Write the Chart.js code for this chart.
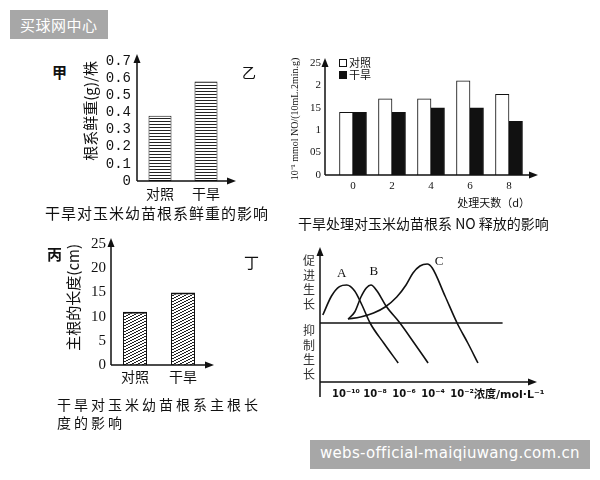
<!DOCTYPE html>
<html>
<head>
<meta charset="utf-8">
<script src="https://cdn.jsdelivr.net/npm/chart.js@4.4.1/dist/chart.umd.min.js"></script>
<style>
  body { margin: 0; background: #fff; width: 600px; height: 480px; position: relative; overflow: hidden;
         font-family: "Noto Sans CJK SC", sans-serif; color: #111; }
  canvas { position: absolute; }
  .t { position: absolute; white-space: nowrap; line-height: 1; }
  .v { position: absolute; width: 13px; font-size: 12px; line-height: 14.5px; word-break: break-all; color: #333; }
  .wm { position: absolute; background: #a7a7a7; color: #fff; }
</style>
</head>
<body>

<div class="wm" style="left:10px;top:10px;width:98px;height:29px;"></div>
<div class="t" style="left:20px;top:17px;font-size:15px;color:#fff;letter-spacing:0.5px;">买球网中心</div>

<!-- 甲 -->
<div class="t" style="left:52px;top:64px;font-size:15px;font-weight:bold;">甲</div>
<canvas id="jia" width="210" height="170" style="left:40px;top:40px"></canvas>
<div class="t" style="left:45px;top:205px;font-size:15px;letter-spacing:1px;">干旱对玉米幼苗根系鲜重的影响</div>

<!-- 乙 -->
<div class="t" style="left:242px;top:65px;font-size:14px;">乙</div>
<canvas id="yi" width="265" height="160" style="left:280px;top:50px"></canvas>
<div class="t" style="left:298px;top:216px;font-size:14px;">干旱处理对玉米幼苗根系 NO 释放的影响</div>

<!-- 丙 -->
<div class="t" style="left:47px;top:246px;font-size:15px;font-weight:bold;">丙</div>
<canvas id="bing" width="200" height="160" style="left:40px;top:230px"></canvas>
<div class="t" style="left:57px;top:397px;font-size:14px;letter-spacing:3px;">干旱对玉米幼苗根系主根长</div>
<div class="t" style="left:57px;top:415px;font-size:14px;letter-spacing:3px;">度的影响</div>

<!-- 丁 -->
<div class="t" style="left:244px;top:254px;font-size:15px;">丁</div>
<canvas id="ding" width="245" height="165" style="left:300px;top:240px"></canvas>
<div class="v" style="left:303px;top:253px;">促进生长</div>
<div class="v" style="left:303px;top:323px;">抑制生长</div>
<div class="t" style="left:474px;top:389px;font-size:11px;font-weight:bold;font-family:'DejaVu Sans','Noto Sans CJK SC',sans-serif;">浓度/mol·L⁻¹</div>

<div class="wm" style="left:310px;top:440px;width:280px;height:29px;"></div>
<div class="t" style="left:320px;top:446px;font-size:15px;color:#fff;letter-spacing:0.3px;font-family:'DejaVu Sans',sans-serif;">webs-official-maiqiuwang.com.cn</div>

<script>
// ---- data ----
const groups = ['对照', '干旱'];

// 甲: root fresh weight (g per plant)
const freshWeight = [0.38, 0.58];
const weightTicks = [0, 0.1, 0.2, 0.3, 0.4, 0.5, 0.6, 0.7];

// 乙: NO release over treatment days
const days = [0, 2, 4, 6, 8];
const ctrlNO = [1.4, 1.7, 1.7, 2.1, 1.8];
const droughtNO = [1.4, 1.4, 1.5, 1.5, 1.2];
const noTicks = [0, 0.5, 1, 1.5, 2, 2.5];
const noTickLabels = ['0', '05', '1', '15', '2', '25'];

// 丙: main root length (cm)
const rootLength = [11, 15];
const lengthTicks = [0, 5, 10, 15, 20, 25];

// 丁: growth response vs log10 concentration
const concTicks = [-10, -8, -6, -4, -2];
const concTickLabels = ['10⁻¹⁰', '10⁻⁸', '10⁻⁶', '10⁻⁴', '10⁻²'];
const curveNames = ['A', 'B', 'C'];
const curveA = [[-11.6, 0.4], [-11.0, 1.35], [-10.45, 1.82], [-9.95, 1.9], [-9.4, 1.6], [-8.9, 0.9], [-8.34, 0], [-7.4, -1.0], [-6.4, -2.0]];
const curveB = [[-9.86, 0.2], [-9.4, 0.55], [-8.97, 1.3], [-8.6, 1.75], [-8.28, 1.9], [-7.86, 1.6], [-7.24, 0.85], [-6.28, 0], [-5.3, -1.0], [-4.34, -2.0]];
const curveC = [[-9.86, 0.2], [-9.0, 0.3], [-8.1, 0.5], [-7.3, 0.8], [-6.5, 1.3], [-5.86, 1.9], [-5.38, 2.5], [-4.9, 2.85], [-4.4, 2.95], [-4.05, 2.75], [-3.17, 1.35], [-2.34, 0], [-1.6, -1.0], [-0.9, -2.0]];
const baseline = [[-11.8, 0], [0.8, 0]];

// ---- helpers ----
Chart.defaults.font.family = '"Liberation Serif", "Noto Sans CJK SC", serif';
Chart.defaults.color = '#111';
Chart.defaults.animation = false;
Chart.defaults.responsive = false;
Chart.defaults.devicePixelRatio = 1;
Chart.defaults.events = [];
Chart.defaults.plugins.legend.display = false;
Chart.defaults.plugins.tooltip.enabled = false;

const cjk = '"Noto Sans CJK SC", sans-serif';

function hatch(kind) {
  const c = document.createElement('canvas');
  const g = c.getContext('2d');
  if (kind === 'h') {
    c.width = 3; c.height = 3;
    g.fillStyle = '#fff'; g.fillRect(0, 0, 3, 3);
    g.fillStyle = '#222'; g.fillRect(0, 0, 3, 1);
  } else {
    c.width = 6; c.height = 3;
    g.fillStyle = '#fff'; g.fillRect(0, 0, 6, 3);
    g.fillStyle = '#222';
    [[0, 2], [1, 2], [2, 1], [3, 1], [4, 0], [5, 0]].forEach(([x, y]) => g.fillRect(x, y, 1, 1));
  }
  return g.createPattern(c, 'repeat');
}

function head(ctx, x, y, dir) {
  ctx.beginPath();
  if (dir === 'up') { ctx.moveTo(x, y); ctx.lineTo(x - 3.5, y + 9); ctx.lineTo(x + 3.5, y + 9); }
  else { ctx.moveTo(x, y); ctx.lineTo(x - 9, y - 3.5); ctx.lineTo(x - 9, y + 3.5); }
  ctx.closePath();
  ctx.fill();
}

// axis lines with arrow heads, drawn from the chart area
const axisArrows = {
  id: 'axisArrows',
  afterDraw(chart, args, o) {
    const { ctx, chartArea: a } = chart;
    ctx.save();
    ctx.strokeStyle = '#111';
    ctx.fillStyle = '#111';
    ctx.lineWidth = o.width || 1.5;
    ctx.beginPath();
    ctx.moveTo(a.left, a.bottom + (o.below || 0));
    ctx.lineTo(a.left, a.top - o.up + 4);
    ctx.moveTo(a.left, a.bottom);
    ctx.lineTo(a.right + o.right - 4, a.bottom);
    ctx.stroke();
    head(ctx, a.left, a.top - o.up, 'up');
    head(ctx, a.right + o.right, a.bottom, 'right');
    ctx.restore();
  }
};

// curve names near the peak of each curve
const curveLabels = {
  id: 'curveLabels',
  afterDatasetsDraw(chart, args, o) {
    if (!o.names) return;
    const { ctx } = chart;
    ctx.save();
    ctx.font = '13px "Liberation Serif", serif';
    ctx.fillStyle = '#111';
    ctx.textAlign = 'center';
    ctx.textBaseline = 'middle';
    o.names.forEach((name, i) => {
      const pts = chart.getDatasetMeta(i).data;
      let top = pts[0];
      pts.forEach(p => { if (p.y < top.y) top = p; });
      const [dx, dy] = o.offsets[i];
      ctx.fillText(name, top.x + dx, top.y + dy);
    });
    ctx.restore();
  }
};

// small legend stacked at the top left of the plot
const cornerLegend = {
  id: 'cornerLegend',
  afterDraw(chart, args, o) {
    if (!o.show) return;
    const { ctx, chartArea: a } = chart;
    ctx.save();
    ctx.font = '11px ' + cjk;
    ctx.textBaseline = 'middle';
    chart.data.datasets.forEach((ds, i) => {
      const x = a.left + o.dx, y = a.top + o.dy + i * o.gap;
      ctx.fillStyle = ds.backgroundColor;
      ctx.fillRect(x, y - 4, 8, 8);
      ctx.strokeStyle = ds.borderColor;
      ctx.lineWidth = 1;
      ctx.strokeRect(x + 0.5, y - 3.5, 7, 7);
      ctx.fillStyle = '#111';
      ctx.fillText(ds.label, x + 10, y);
    });
    ctx.restore();
  }
};

Chart.register(axisArrows, curveLabels, cornerLegend);

const noGrid = { display: false, drawTicks: false };
const noBorder = { display: false };

// ---- 甲 ----
new Chart(document.getElementById('jia'), {
  type: 'bar',
  data: {
    labels: groups,
    datasets: [{
      data: freshWeight,
      backgroundColor: hatch('h'),
      borderColor: '#111',
      borderWidth: 1,
      borderSkipped: false,
      categoryPercentage: 1,
      barPercentage: 0.5
    }]
  },
  options: {
    layout: { padding: { top: 21, right: 21, left: 0, bottom: 0 } },
    scales: {
      x: {
        grid: noGrid, border: noBorder,
        ticks: { font: { family: cjk, size: 14 }, padding: 4 },
        afterFit: s => { s.height = 29; }
      },
      y: {
        min: 0, max: 0.7,
        grid: noGrid, border: noBorder,
        afterBuildTicks: s => { s.ticks = weightTicks.map(v => ({ value: v })); },
        ticks: { font: { family: '"Liberation Mono", monospace', size: 14 }, padding: 6,
                 autoSkip: false, callback: v => String(v) },
        title: { display: true, text: '根系鲜重(g)/株', align: 'end',
                 font: { family: cjk, size: 15 }, padding: { top: 41, bottom: 0 } },
        afterFit: s => { s.width = 97; }
      }
    },
    plugins: { axisArrows: { up: 7, right: 7 } }
  }
});

// ---- 乙 ----
new Chart(document.getElementById('yi'), {
  type: 'bar',
  data: {
    datasets: [
      { label: '对照', data: days.map((d, i) => ({ x: d, y: ctrlNO[i] })),
        backgroundColor: '#fff', borderColor: '#111', borderWidth: 1, barThickness: 13.5 },
      { label: '干旱', data: days.map((d, i) => ({ x: d, y: droughtNO[i] })),
        backgroundColor: '#111', borderColor: '#111', borderWidth: 1, barThickness: 13.5 }
    ]
  },
  options: {
    layout: { padding: { top: 13, right: 15, left: 0, bottom: 0 } },
    scales: {
      x: {
        type: 'linear', offset: false, min: -1.436, max: 9.077,
        grid: noGrid, border: noBorder,
        afterBuildTicks: s => { s.ticks = days.map(v => ({ value: v })); },
        ticks: { font: { size: 11 }, padding: 5, autoSkip: false, callback: v => String(v) },
        title: { display: true, text: '处理天数（d）', align: 'end',
                 font: { family: cjk, size: 11 }, padding: { top: 0, bottom: 1 } },
        afterFit: s => { s.height = 35; }
      },
      y: {
        min: 0, max: 2.5,
        grid: noGrid, border: noBorder,
        afterBuildTicks: s => { s.ticks = noTicks.map(v => ({ value: v })); },
        ticks: { font: { size: 11 }, padding: 4, autoSkip: false,
                 callback: (v, i) => noTickLabels[i] },
        title: { display: true, text: '10⁻¹ mmol NO/(10mL.2min.g)',
                 font: { size: 10 }, padding: { top: 9, bottom: 0 } },
        afterFit: s => { s.width = 45; }
      }
    },
    plugins: {
      cornerLegend: { show: true, dx: 14, dy: 0, gap: 12 },
      axisArrows: { up: 5, right: 8 }
    }
  }
});

// ---- 丙 ----
new Chart(document.getElementById('bing'), {
  type: 'bar',
  data: {
    labels: groups,
    datasets: [{
      data: rootLength,
      backgroundColor: hatch('d'),
      borderColor: '#111',
      borderWidth: { top: 2, left: 1, right: 1, bottom: 0 },
      borderSkipped: false,
      categoryPercentage: 1,
      barPercentage: 0.5
    }]
  },
  options: {
    layout: { padding: { top: 13, right: 33, left: 0, bottom: 0 } },
    scales: {
      x: {
        grid: noGrid, border: noBorder,
        ticks: { font: { family: cjk, size: 14 }, padding: 3 },
        afterFit: s => { s.height = 25; }
      },
      y: {
        min: 0, max: 25,
        grid: noGrid, border: noBorder,
        afterBuildTicks: s => { s.ticks = lengthTicks.map(v => ({ value: v })); },
        ticks: { font: { size: 15 }, padding: 5, autoSkip: false, callback: v => String(v) },
        title: { display: true, text: '主根的长度(cm)', align: 'end',
                 font: { family: cjk, size: 15 }, padding: { top: 24, bottom: 0 } },
        afterFit: s => { s.width = 71; }
      }
    },
    plugins: { axisArrows: { up: 6, right: 7 } }
  }
});

// ---- 丁 ----
const toPts = arr => arr.map(([x, y]) => ({ x, y }));
const curveStyle = { borderColor: '#111', borderWidth: 1.6, pointRadius: 0, cubicInterpolationMode: 'monotone', fill: false };
new Chart(document.getElementById('ding'), {
  type: 'line',
  data: {
    datasets: [
      { ...curveStyle, data: toPts(curveA) },
      { ...curveStyle, data: toPts(curveB) },
      { ...curveStyle, data: toPts(curveC) },
      { ...curveStyle, borderWidth: 1.5, data: toPts(baseline) }
    ]
  },
  options: {
    layout: { padding: { top: 12, right: 15, left: 0, bottom: 0 } },
    scales: {
      x: {
        type: 'linear', min: -11.793, max: 2.69,
        grid: noGrid, border: noBorder,
        afterBuildTicks: s => { s.ticks = concTicks.map(v => ({ value: v })); },
        ticks: { font: { family: '"DejaVu Sans", sans-serif', size: 10, weight: 'bold' }, padding: 6,
                 autoSkip: false, maxRotation: 0, callback: (v, i) => concTickLabels[i] },
        afterFit: s => { s.height = 23; }
      },
      y: {
        type: 'linear', min: -2.95, max: 3.55,
        grid: noGrid, border: noBorder,
        ticks: { display: false },
        afterFit: s => { s.width = 20; }
      }
    },
    plugins: {
      axisArrows: { up: 5, right: 7, below: 15, width: 1.5 },
      curveLabels: { names: curveNames, offsets: [[-5, -11], [3, -13], [12, -2]] }
    }
  }
});
</script>
</body>
</html>
